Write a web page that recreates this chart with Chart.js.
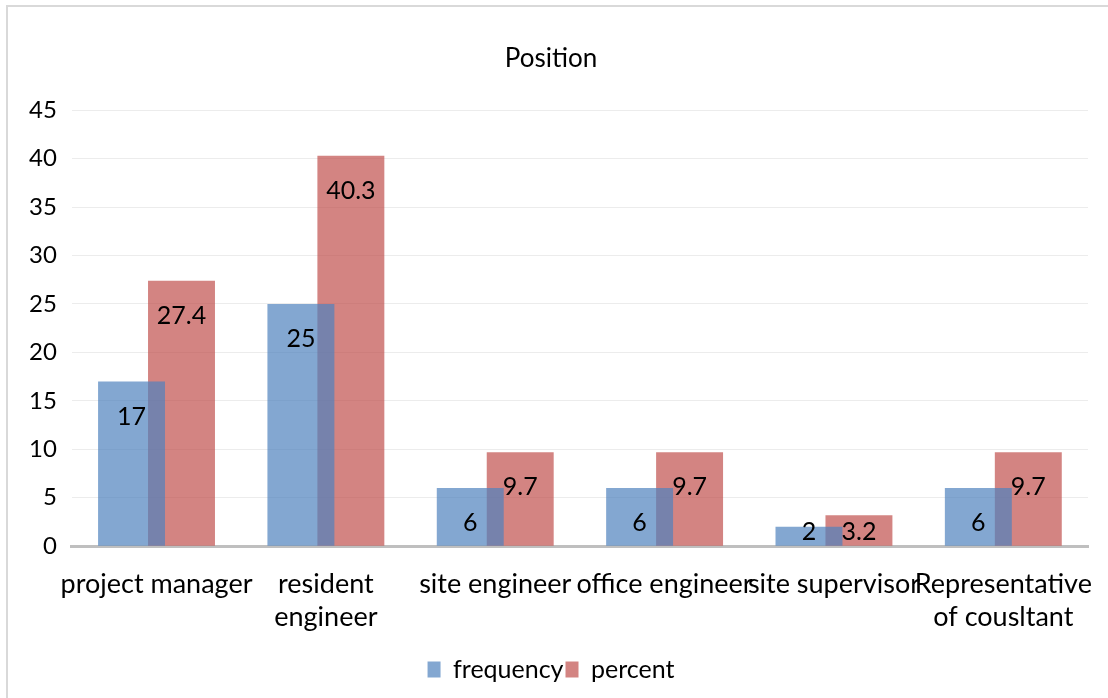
<!DOCTYPE html>
<html>
<head>
<meta charset="utf-8">
<script src="https://cdn.jsdelivr.net/npm/chart.js@4.4.1/dist/chart.umd.min.js"></script>
<style>
  html, body { margin: 0; padding: 0; background: #fff; }
  #wrap {
    position: absolute; left: 6px; top: 5px; width: 1102px; height: 693px;
    border-left: 2px solid #d9d9d9; border-top: 2px solid #d9d9d9;
  }
</style>
</head>
<body>
<div id="wrap"><canvas id="chart" width="1100" height="691"></canvas></div>
<script>
const categories = [
    "project manager",
    ["resident", "engineer"],
    "site engineer",
    "office engineer",
    "site supervisor",
    ["Representative", "of cousltant"]
];
const frequency = [17, 25, 6, 6, 2, 6];
const percent = [27.4, 40.3, 9.7, 9.7, 3.2, 9.7];
const yTicks = [0, 5, 10, 15, 20, 25, 30, 35, 40, 45];

const FONT = "Lato, 'Noto Sans', sans-serif";

// Excel-style value labels sitting a bit below the bar top
const valueLabels = {
    id: "valueLabels",
    afterDatasetsDraw(chart) {
        const ctx = chart.ctx;
        ctx.save();
        ctx.font = "25px " + FONT;
        ctx.fillStyle = "#000";
        ctx.textAlign = "center";
        ctx.textBaseline = "middle";
        chart.data.datasets.forEach((ds, i) => {
            chart.getDatasetMeta(i).data.forEach((bar, j) => {
                const y = Math.min(bar.y + 35, bar.base - 14);
                ctx.fillText(String(ds.data[j]), bar.x, y);
            });
        });
        ctx.restore();
    }
};

const ctx = document.getElementById("chart").getContext("2d");

new Chart(ctx, {
    type: "bar",
    data: {
        labels: categories,
        datasets: [{
            label: "frequency",
            data: frequency,
            backgroundColor: "rgba(79,129,189,0.7)"
        }, {
            label: "percent",
            data: percent,
            backgroundColor: "rgba(192,80,77,0.7)"
        }]
    },
    options: {
        responsive: false,
        animation: false,
        categoryPercentage: 0.59,
        barPercentage: 1.34,
        layout: { padding: { left: 6, right: 20, top: 0, bottom: 6 } },
        plugins: {
            title: {
                display: true,
                text: "Position",
                color: "#000",
                font: { family: FONT, size: 26, weight: "normal" },
                padding: { top: 36, bottom: 36 }
            },
            legend: {
                position: "bottom",
                labels: {
                    color: "#000",
                    font: { family: FONT, size: 25 },
                    boxWidth: 13,
                    boxHeight: 16,
                    padding: 2
                }
            },
            tooltip: { enabled: false }
        },
        scales: {
            x: {
                grid: { display: false, drawTicks: false },
                border: { display: true, color: "#bfbfbf", width: 3 },
                // let the last label run past the plot edge like Excel does
                afterFit: (axis) => { axis.paddingRight = 0; axis.paddingLeft = 0; },
                ticks: {
                    color: "#000",
                    font: { family: FONT, size: 27 },
                    maxRotation: 0,
                    autoSkip: false,
                    padding: 22
                }
            },
            y: {
                min: 0,
                max: 45,
                afterBuildTicks: (axis) => { axis.ticks = yTicks.map(v => ({ value: v })); },
                grid: { color: "#ececec", drawTicks: false },
                border: { display: false },
                ticks: {
                    color: "#000",
                    font: { family: FONT, size: 24 },
                    padding: 15
                }
            }
        }
    },
    plugins: [valueLabels]
});
</script>
</body>
</html>
